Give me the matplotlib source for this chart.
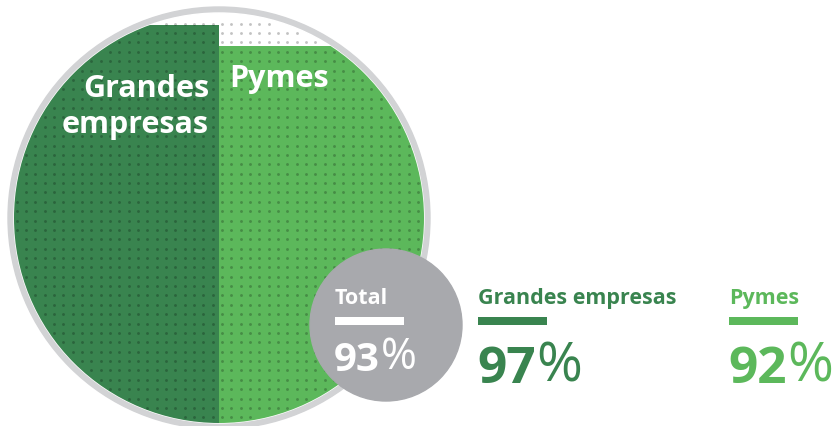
import matplotlib.pyplot as plt
from matplotlib.patches import Circle
import numpy as np

# data
groups = ['Grandes empresas', 'Pymes']
inner_labels = ['Grandes\nempresas', 'Pymes']
pct = [97, 92]
total = 93
colors = ['#39844f', '#5cb85b']

ring_color = '#d2d3d5'
total_color = '#a8a9ad'
dot_color = (0, 0, 0, 0.24)
font = ['Open Sans', 'DejaVu Sans']

fig = plt.figure(figsize=(8.38, 4.27), dpi=100)
ax = fig.add_axes([0, 0, 1, 1])
ax.set_xlim(0, 838)
ax.set_ylim(427, 0)
ax.axis('off')

# big circle geometry (pixels)
cx, cy = 219, 219
r_out, r_in = 211, 205
top_in, bot_in = cy - r_in, cy + r_in

ax.add_patch(Circle((cx, cy), r_out, color=ring_color, zorder=1))
ax.add_patch(Circle((cx, cy), r_in, color='white', zorder=2))
clip = Circle((cx, cy), r_in, transform=ax.transData)

# filled halves, height proportional to the percentage
lefts = [cx - r_in, cx]
for i in range(2):
    h = pct[i] / 100 * 2 * r_in
    bars = ax.bar(lefts[i], h, width=r_in, bottom=bot_in - h, align='edge',
                  color=colors[i], zorder=3)
    for b in bars:
        b.set_clip_path(clip)

# dot pattern
gx = np.arange(7.4, 440, 9.33)
gy = np.arange(6.0, 440, 9.37)
X, Y = np.meshgrid(gx, gy)
m = (X - cx) ** 2 + (Y - cy) ** 2 < (r_in - 2) ** 2
dots = ax.scatter(X[m], Y[m], s=4.2, color=dot_color, linewidths=0, zorder=4)
dots.set_clip_path(clip)

# labels inside the circle
ax.text(209, 97, 'Grandes', ha='right', va='baseline', color='white',
        fontsize=22, fontweight='bold', family=font, zorder=5)
ax.text(209, 133, 'empresas', ha='right', va='baseline', color='white',
        fontsize=22, fontweight='bold', family=font, zorder=5)
ax.text(229, 87, inner_labels[1], ha='left', va='baseline', color='white',
        fontsize=22, fontweight='bold', family=font, zorder=5)

# total bubble
ax.add_patch(Circle((386, 326), 76, color=total_color, zorder=6))


def legend_block(x, title, value, color, big):
    ax.text(x, 304, title, ha='left', va='baseline', color=color,
            fontsize=15.5, fontweight='bold', family=font, zorder=7)
    ax.fill_between([x, x + 69], 318, 326, color=color, linewidth=0, zorder=7)
    size = 37 if big else 29
    num = ax.text(x - 1, 383 if big else 371, str(value), ha='left', va='baseline',
                  color=color, fontsize=size, fontweight='bold',
                  family=font, zorder=7)
    ax.annotate('%', xy=(1, 0), xycoords=num, xytext=(0.5, 0),
                textcoords='offset points', ha='left', va='bottom', color=color,
                fontsize=size * 1.08, fontweight='normal', family=font,
                zorder=7)


legend_block(335, 'Total', total, 'white', False)
legend_block(478, groups[0], pct[0], colors[0], True)
legend_block(729, groups[1], pct[1], colors[1], True)

fig.savefig('out.png', dpi=100)
